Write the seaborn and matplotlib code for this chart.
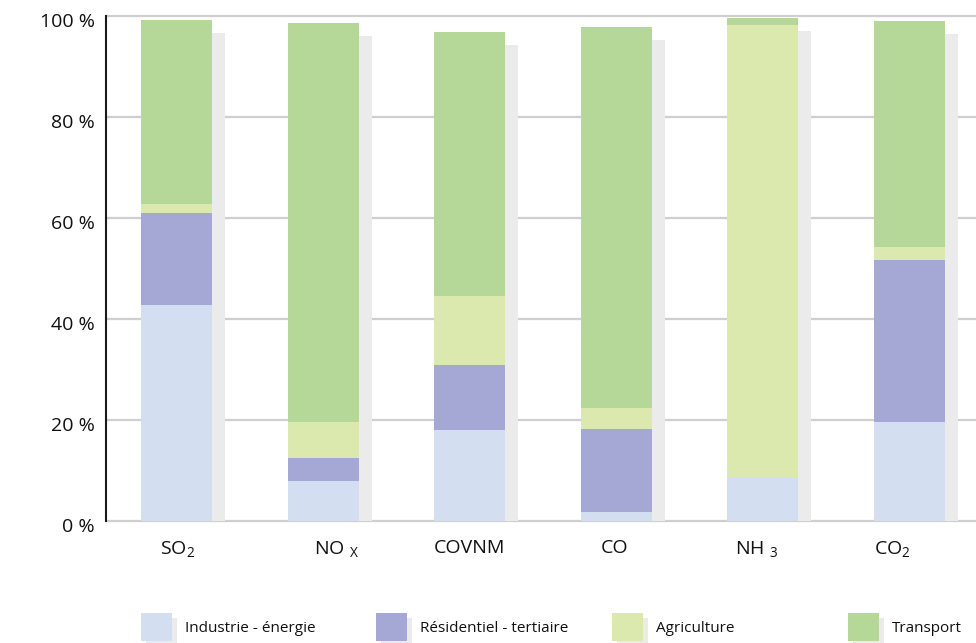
import matplotlib
matplotlib.use("Agg")
import matplotlib.pyplot as plt
import matplotlib.transforms as mtransforms
from matplotlib.patches import Rectangle
import numpy as np
import seaborn as sns

# Emissions by pollutant and sector (% of total)
polluants = ["SO2", "NOx", "COVNM", "CO", "NH3", "CO2"]
etiquettes = ["SO$_2$", "NO $_\\mathrm{X}$", "COVNM", "CO", "NH $_3$", "CO$_2$"]
secteurs = ["Industrie - énergie", "Résidentiel - tertiaire", "Agriculture", "Transport"]
industrie = [42.8, 7.9, 18.0, 1.8, 8.5, 19.6]
residentiel = [18.2, 4.6, 12.9, 16.4, 0.0, 32.1]
agriculture = [1.8, 7.1, 13.7, 4.2, 89.7, 2.6]
transport = [36.4, 79.0, 52.2, 75.4, 1.4, 44.7]
graduations = [0, 20, 40, 60, 80, 100]

couleurs = ["#d3def0", "#a5a7d4", "#dce9ae", "#b5d898"]
ombre = "#ebebeb"

sns.set_theme(style="white")
plt.rcParams["font.family"] = ["Open Sans", "DejaVu Sans"]
plt.rcParams["mathtext.fontset"] = "custom"
plt.rcParams["mathtext.rm"] = "Open Sans"
plt.rcParams["mathtext.it"] = "Open Sans:italic"
plt.rcParams["mathtext.bf"] = "Open Sans:bold"

W, H = 976, 643
fig = plt.figure(figsize=(W / 100, H / 100), dpi=100)
ax = fig.add_axes([106 / W, 1 - 521 / H, 1 - 106 / W, (521 - 16) / H])

series = [industrie, residentiel, agriculture, transport]
cumul = np.cumsum(np.array(series), axis=0)
largeur = 0.484
x = np.arange(len(polluants))

# drop shadow behind each stacked column
decale = mtransforms.offset_copy(ax.transData, fig=fig, x=13, y=-13, units="dots")
ax.bar(x, cumul[-1], width=largeur, color=ombre, linewidth=0,
       transform=decale, zorder=1)

# stacked columns: draw cumulative totals from the top layer down
for i in range(len(series) - 1, -1, -1):
    sns.barplot(x=x, y=cumul[i], color=couleurs[i], width=largeur,
                saturation=1, linewidth=0, edgecolor="none", ax=ax,
                native_scale=True, zorder=2)

for g in graduations:
    ax.axhline(g, color="#cfcfcf", linewidth=1.6, zorder=0.5, clip_on=False)

ax.set_xlim(-0.481, 5.454)
ax.set_ylim(0, 100)
ax.set_yticks(graduations, [f"{g} %" for g in graduations])
pos_etiquettes = [0.01, 1.088, 2.0, 2.99, 3.96, 4.88]
ax.set_xticks(pos_etiquettes, etiquettes)
ax.tick_params(axis="y", length=0, pad=8, labelsize=14, labelcolor="#111111")
ax.tick_params(axis="x", length=0, pad=13, labelsize=14, labelcolor="#111111")
for lab in ax.get_yticklabels():
    lab.set_transform(lab.get_transform() +
                      mtransforms.ScaledTranslation(0, -4 / 100, fig.dpi_scale_trans))
ax.set_xlabel("")
ax.set_ylabel("")
for s in ["top", "right", "bottom"]:
    ax.spines[s].set_visible(False)
ax.spines["left"].set_color("#1a1a1a")
ax.spines["left"].set_linewidth(1.5)
ax.spines["left"].set_zorder(3)

# legend row along the bottom
lx = [141, 376, 612, 848]
for px, nom, c in zip(lx, secteurs, couleurs):
    fig.add_artist(Rectangle(((px + 5) / W, 1 - 643 / H), 31 / W, 25 / H,
                             transform=fig.transFigure, color=ombre, lw=0))
    fig.add_artist(Rectangle((px / W, 1 - 641 / H), 31 / W, 28 / H,
                             transform=fig.transFigure, color=c, lw=0))
    fig.text((px + 44) / W, 1 - 628 / H, nom, fontsize=11, va="center",
             ha="left", color="#111111")

fig.savefig("out.png", dpi=100)
